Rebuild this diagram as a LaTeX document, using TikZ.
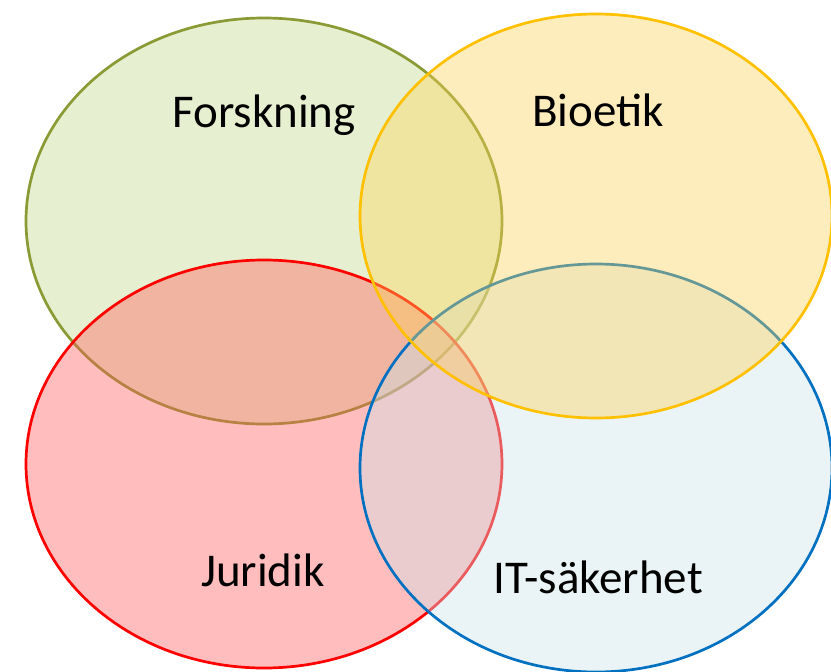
\documentclass[tikz,border=0pt]{standalone}
\usepackage{fontspec}
\setmainfont{Carlito}
\usetikzlibrary{positioning}
\definecolor{forskfill}{RGB}{193,218,138}
\definecolor{forskline}{RGB}{138,154,52}
\definecolor{biofill}{RGB}{253,210,88}
\definecolor{bioline}{RGB}{255,192,0}
\definecolor{jurfill}{RGB}{255,90,90}
\definecolor{jurline}{RGB}{255,0,0}
\definecolor{itfill}{RGB}{203,228,233}
\definecolor{itline}{RGB}{0,112,192}
\tikzset{
  area/.style={line width=2.7pt, fill opacity=0.4},
  label/.style={font=\fontsize{47}{51}\selectfont, text=black}
}
\begin{document}
\begin{tikzpicture}[x=1pt, y=-1pt]
      \useasboundingbox (0,0) rectangle (831,672);
      \clip (0,0) rectangle (831,672);

      \draw[area, draw=forskline, fill=forskfill] (264,221) ellipse (238 and 203);
      \draw[area, draw=jurline, fill=jurfill] (264,464) ellipse (238 and 204);
      \draw[area, draw=itline, fill=itfill] (596,468) ellipse (236 and 204);
      \draw[area, draw=bioline, fill=biofill] (596,216) ellipse (236 and 202);

      \node[label] (forskning) at (264,115) {Forskning};
      \node[label] (bioetik) at (598,110) {Bioetik};
      \node[label] (juridik) at (263,570) {Juridik};
      \node[label] (itsak) at (598,577) {IT-säkerhet};
    \end{tikzpicture}
\end{document}
